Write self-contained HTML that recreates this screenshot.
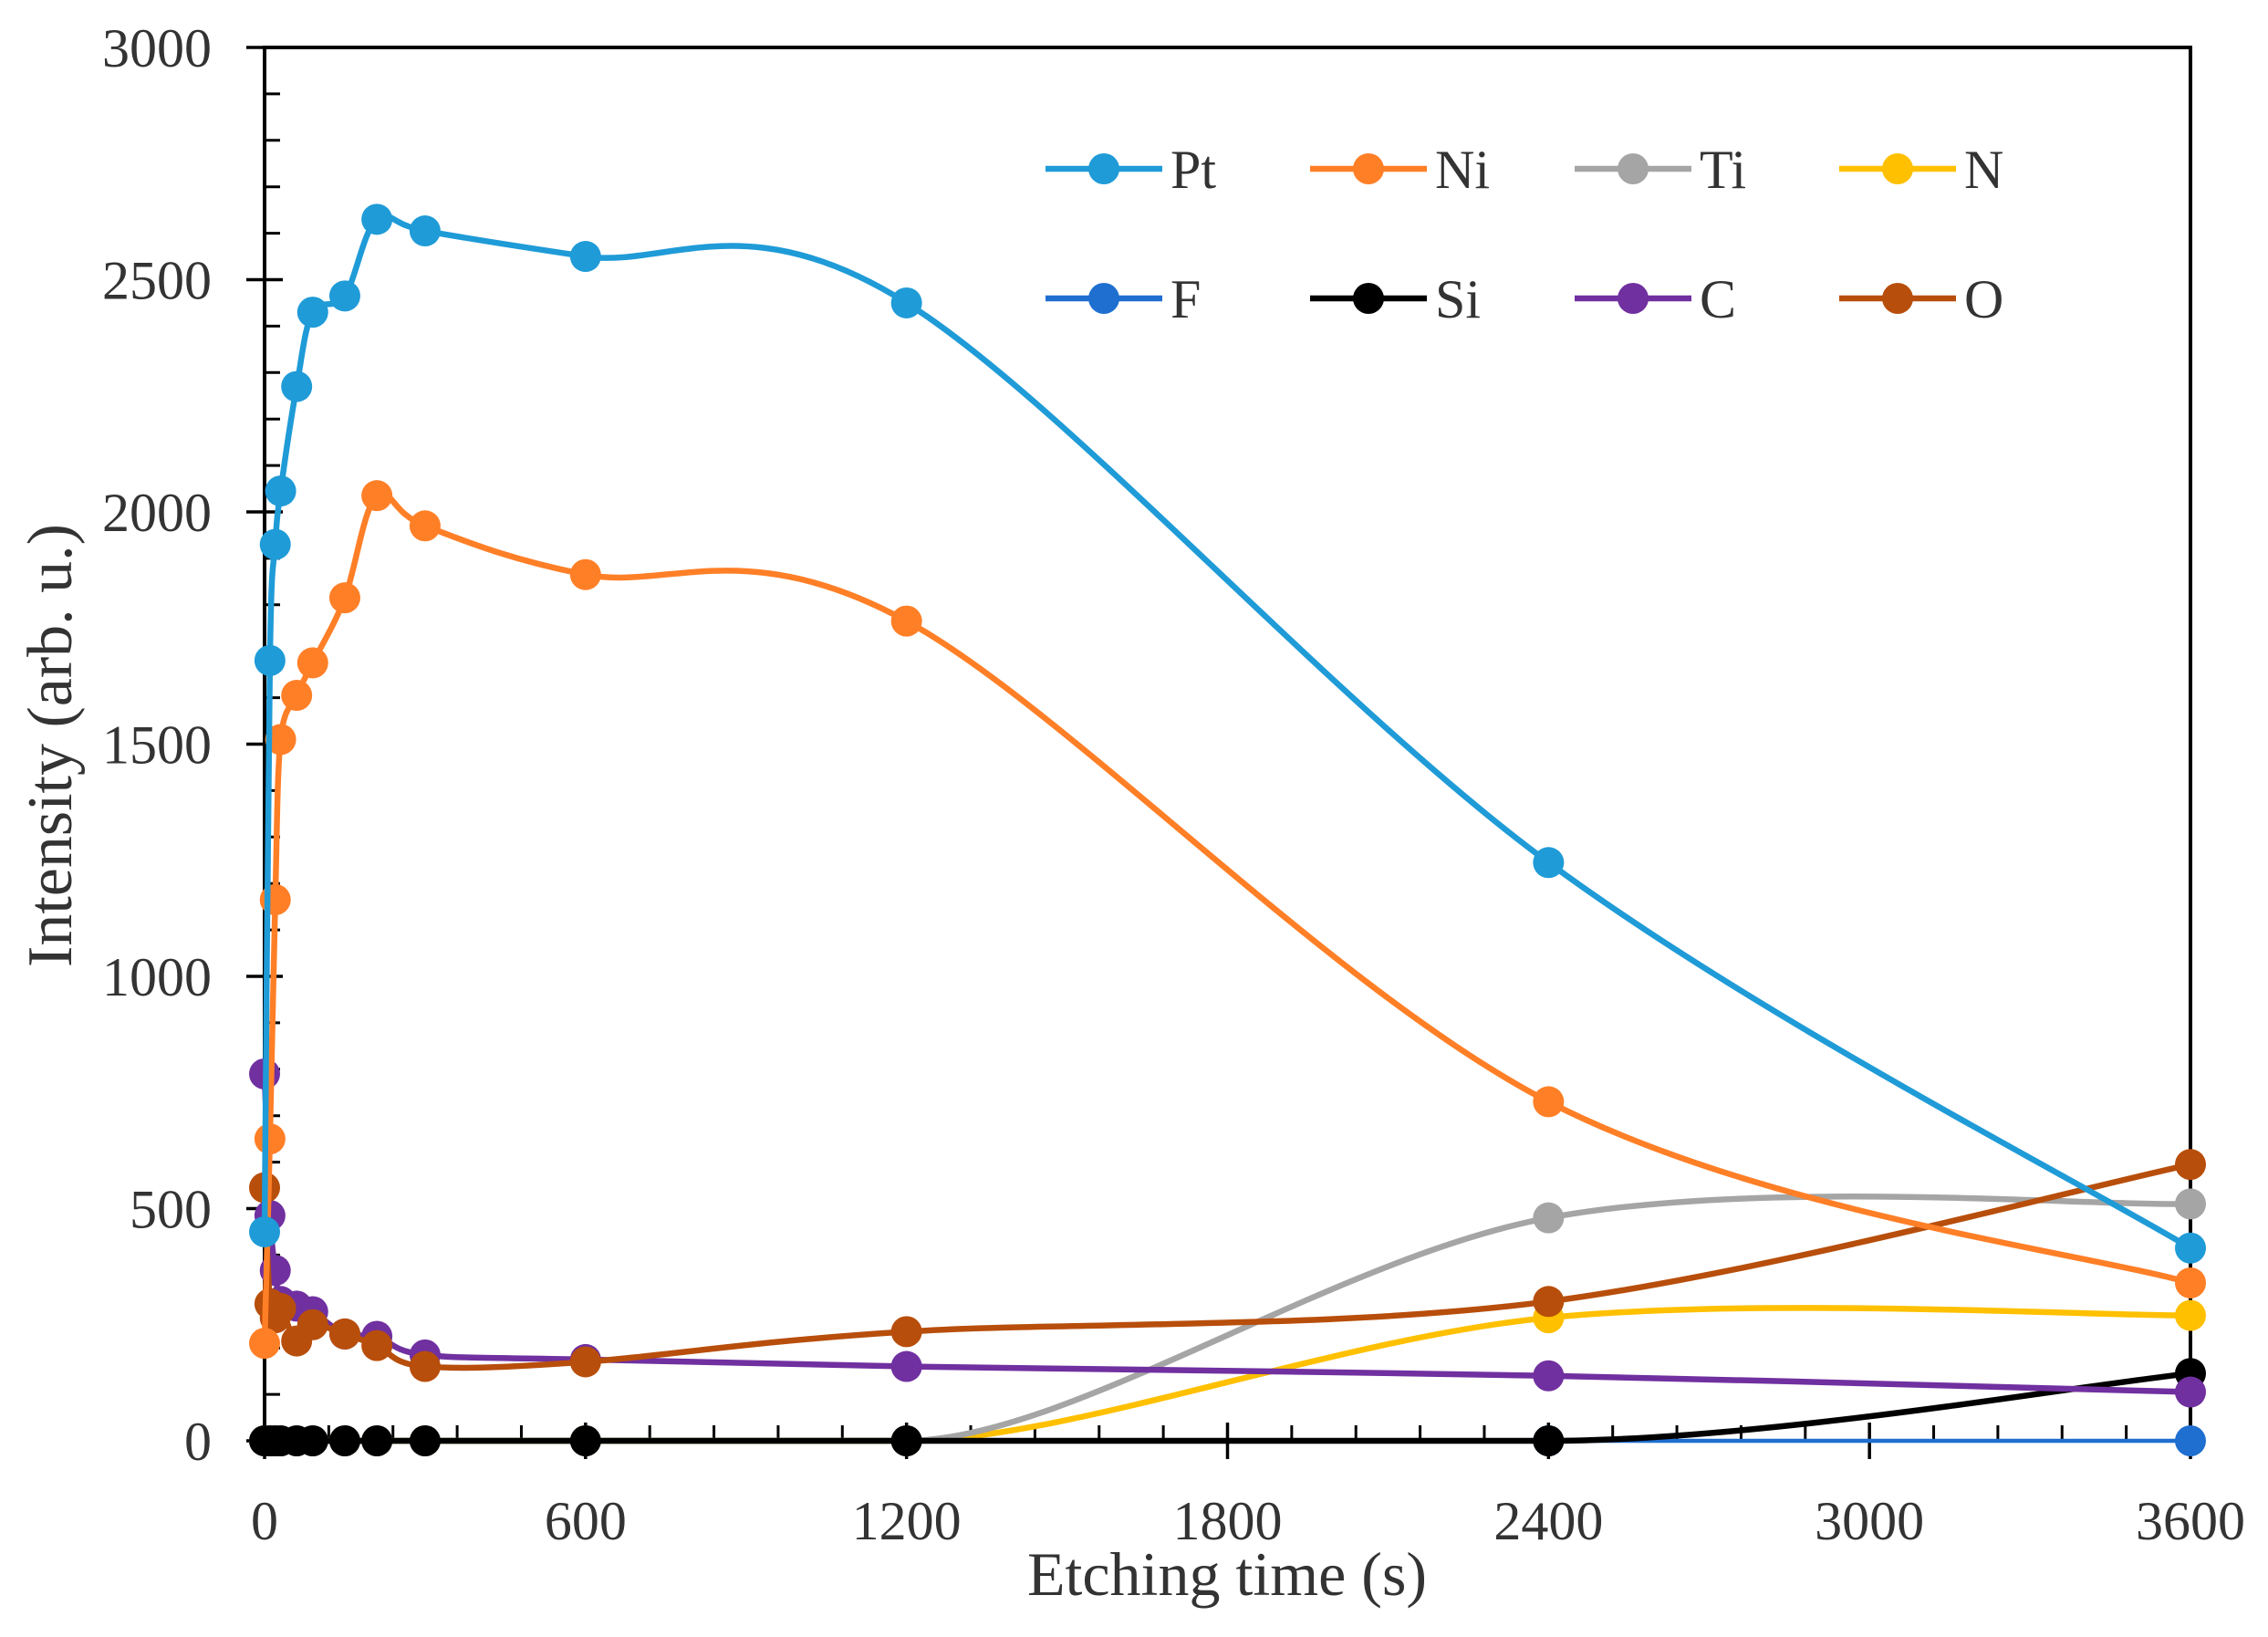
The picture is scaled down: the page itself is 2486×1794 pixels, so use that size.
<!DOCTYPE html>
<html><head><meta charset="utf-8"><style>
html,body{margin:0;padding:0;background:#fff;}
svg{display:block;}
text{font-family:"Liberation Serif",serif;fill:#333;}
</style></head><body>
<svg id="s" width="2486" height="1794" xmlns="http://www.w3.org/2000/svg">
<rect width="2486" height="1794" fill="#fff"/>
<g id="axes"></g>
<g id="series"></g>
<g id="legend"></g>
<text x="1345" y="1748" font-size="68" text-anchor="middle">Etching time (s)</text>
<text transform="translate(78,817) rotate(-90)" font-size="70" text-anchor="middle">Intensity (arb. u.)</text>
</svg>
<script>
var L=290,R=2401,T=52,B=1579;
function X(t){return L+t*(R-L)/3600;}
function Y(v){return B-v*(B-T)/3000;}
var NS="http://www.w3.org/2000/svg";
function el(p,tag,a,txt){var e=document.createElementNS(NS,tag);for(var k in a)e.setAttribute(k,a[k]);if(txt!==undefined)e.textContent=txt;p.appendChild(e);return e;}
var ax=document.getElementById('axes');
for(var v=100;v<3000;v+=100){if(v%500)el(ax,'line',{x1:L,x2:L+17,y1:Y(v),y2:Y(v),stroke:'#000','stroke-width':3});}
for(var v=0;v<=3000;v+=500){el(ax,'line',{x1:L-20,x2:L+20,y1:Y(v),y2:Y(v),stroke:'#000','stroke-width':3.5});
 el(ax,'text',{x:232,y:Y(v)+21,'font-size':60,'text-anchor':'end'},v);}
for(var t=120;t<3600;t+=120){if(t%600)el(ax,'line',{x1:X(t),x2:X(t),y1:B,y2:B-17,stroke:'#000','stroke-width':3});}
for(var t=0;t<=3600;t+=600){el(ax,'line',{x1:X(t),x2:X(t),y1:B-20,y2:B+20,stroke:'#000','stroke-width':3.5});
 el(ax,'text',{x:X(t),y:1687,'font-size':60,'text-anchor':'middle'},t);}
el(ax,'polyline',{points:L+','+B+' '+L+','+T+' '+R+','+T+' '+R+','+B+' '+L+','+B,fill:'none',stroke:'#000','stroke-width':4});
var ts=[0,10,20,30,60,90,150,210,300,600,1200,2400,3600];
var S=[
['F','#1f6fd0',[0,0,0,0,0,0,0,0,0,0,0,0,0]],
['N','#ffc000',[0,0,0,0,0,0,0,0,0,0,0,265,270]],
['Ti','#a5a5a5',[0,0,0,0,0,0,0,0,0,0,0,480,510]],
['Si','#000',[0,0,0,0,0,0,0,0,0,0,0,0,145]],
['C','#7030a0',[790,485,367,300,290,278,230,225,185,175,160,140,105]],
['O','#b84e0b',[545,295,265,285,215,250,230,205,160,170,235,300,595]],
['Ni','#ff7f27',[210,650,1165,1510,1605,1675,1815,2035,1970,1865,1765,730,340]],
['Pt','#1f9bd7',[450,1680,1930,2045,2270,2430,2465,2630,2605,2550,2450,1245,415]]
];
var sg=document.getElementById('series');
S.forEach(function(s){
 var p=ts.map(function(t,i){return [X(t),Y(s[2][i])];});
 var d='M'+p[0][0]+','+p[0][1];
 for(var i=0;i<p.length-1;i++){
  var p0=p[i-1]||p[i],p1=p[i],p2=p[i+1],p3=p[i+2]||p2;
  if(p1[1]==B&&p2[1]==B){d+=' L'+p2;continue;}
  var c1=[p1[0]+(p2[0]-p0[0])/6,Math.min(B,p1[1]+(p2[1]-p0[1])/6)];
  var c2=[p2[0]-(p3[0]-p1[0])/6,Math.min(B,p2[1]-(p3[1]-p1[1])/6)];
  if(p1[1]==B)c1[1]=B;
  d+=' C'+c1+' '+c2+' '+p2;
 }
 el(sg,'path',{d:d,fill:'none',stroke:s[1],'stroke-width':s[0]=='F'?4.5:6.5});
 p.forEach(function(q){el(sg,'circle',{cx:q[0],cy:q[1],r:17,fill:s[1]});});
});
var lg=document.getElementById('legend');
var leg=[['Pt','#1f9bd7',1146,185],['Ni','#ff7f27',1436,185],['Ti','#a5a5a5',1726,185],['N','#ffc000',2016,185],
['F','#1f6fd0',1146,327],['Si','#000',1436,327],['C','#7030a0',1726,327],['O','#b84e0b',2016,327]];
leg.forEach(function(l){
 el(lg,'line',{x1:l[2],x2:l[2]+128,y1:l[3],y2:l[3],stroke:l[1],'stroke-width':6.5});
 el(lg,'circle',{cx:l[2]+64,cy:l[3],r:17,fill:l[1]});
 el(lg,'text',{x:l[2]+137,y:l[3]+21,'font-size':60},l[0]);
});
</script>
</body></html>
